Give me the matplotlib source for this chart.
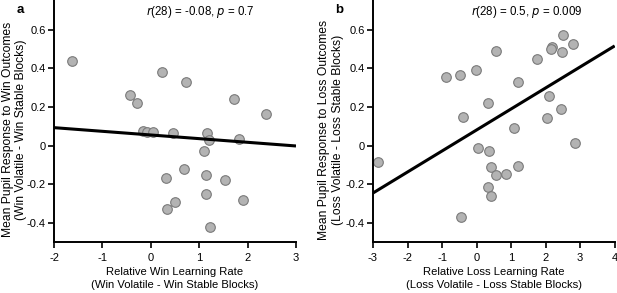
import matplotlib
matplotlib.use("Agg")
import matplotlib.pyplot as plt
import numpy as np

plt.rcParams['font.family'] = ['Liberation Sans', 'DejaVu Sans']

# Panel a data: relative win learning rate vs pupil response to win outcomes
win_lr = [-1.62, 0.24, 0.73, -0.42, -0.29, 1.71, 2.37, -0.17, -0.07, 0.05,
          0.45, 1.17, 1.82, 1.21, 1.09, 0.69, 0.31, 1.15, 1.54, 1.15,
          0.50, 0.33, 1.90, 1.22]
win_pupil = [0.44, 0.38, 0.33, 0.264, 0.223, 0.244, 0.163, 0.078, 0.072, 0.069,
             0.064, 0.064, 0.036, 0.03, -0.027, -0.12, -0.17, -0.15, -0.18, -0.25,
             -0.295, -0.33, -0.283, -0.42]
win_fit = (0.055, -0.019)  # intercept, slope

# Panel b data: relative loss learning rate vs pupil response to loss outcomes
loss_lr = [2.51, 2.80, 2.19, 2.15, 2.46, 0.55, 1.74, -0.03, -0.47, -0.88,
           1.20, 2.10, 0.34, 2.44, -0.39, 2.04, 1.09, 2.84, -2.86, 0.04,
           0.37, 0.43, 1.21, 0.55, 0.84, 0.32, 0.43, -0.44]
loss_pupil = [0.572, 0.528, 0.51, 0.50, 0.484, 0.49, 0.45, 0.392, 0.368, 0.354,
              0.328, 0.259, 0.223, 0.19, 0.15, 0.142, 0.093, 0.012, -0.086, -0.014,
              -0.026, -0.109, -0.104, -0.155, -0.147, -0.216, -0.259, -0.369]
loss_fit = (0.081, 0.109)  # intercept, slope

win_xticks = [-2, -1, 0, 1, 2, 3]
loss_xticks = [-3, -2, -1, 0, 1, 2, 3, 4]
yticks = [-0.4, -0.2, 0, 0.2, 0.4, 0.6]
ytick_labels = ['-0.4', '-0.2', '0', '0.2', '0.4', '0.6']

W, H = 617, 293
fig = plt.figure(figsize=(W / 100, H / 100), dpi=100)

panels = [
    dict(x=win_lr, y=win_pupil, fit=win_fit, xticks=win_xticks,
         left=54, right=296, letter='a', statx=0.603, ylab_x=-0.11,
         stat=r'$r$(28) = -0.08, $p$ = 0.7',
         xlabel='Relative Win Learning Rate\n(Win Volatile - Win Stable Blocks)',
         ylabel='Mean Pupil Response to Win Outcomes\n(Win Volatile - Win Stable Blocks)'),
    dict(x=loss_lr, y=loss_pupil, fit=loss_fit, xticks=loss_xticks,
         left=373, right=614.7, letter='b', statx=0.637, ylab_x=-0.122,
         stat=r'$r$(28) = 0.5, $p$ = 0.009',
         xlabel='Relative Loss Learning Rate\n(Loss Volatile - Loss Stable Blocks)',
         ylabel='Mean Pupil Response to Loss Outcomes\n(Loss Volatile - Loss Stable Blocks)'),
]

top_px, bottom_px = 0, 242
for p in panels:
    ax = fig.add_axes([p['left'] / W, (H - bottom_px) / H,
                       (p['right'] - p['left']) / W, (bottom_px - top_px) / H])
    xt = p['xticks']
    ax.set_xlim(xt[0], xt[-1])
    ax.set_ylim(-0.5, 0.755)
    ax.scatter(p['x'], p['y'], s=48, facecolor='#b3b3b3', edgecolor='#7a7a7a',
               linewidth=0.8, zorder=2, clip_on=False)
    xs = np.array([xt[0], xt[-1]])
    b0, b1 = p['fit']
    ax.plot(xs, b0 + b1 * xs, color='black', lw=2.2, zorder=3, solid_capstyle='butt')
    for s in ['top', 'right']:
        ax.spines[s].set_visible(False)
    for s in ['left', 'bottom']:
        ax.spines[s].set_linewidth(1.4)
    ax.set_xticks(xt)
    ax.set_xticklabels([str(v) for v in xt])
    ax.set_yticks(yticks)
    ax.set_yticklabels(ytick_labels)
    ax.tick_params(direction='out', length=4, width=1.2, labelsize=8, colors='black')
    ax.tick_params(axis='x', pad=4)
    ax.tick_params(axis='y', pad=2)
    ax.set_xlabel(p['xlabel'], fontsize=8.1, labelpad=3, linespacing=1.3)
    ax.set_ylabel(p['ylabel'], fontsize=8.7, linespacing=1.2)
    ax.yaxis.set_label_coords(p['ylab_x'], 0.465)
    ax.text(p['statx'], 0.95, p['stat'], transform=ax.transAxes, ha='center',
            va='center', fontsize=8.3)
    ax.text(-0.155, 0.96, p['letter'], transform=ax.transAxes, ha='left', va='center',
            fontsize=9.5, fontweight='bold')

fig.savefig('out.png', dpi=100)
